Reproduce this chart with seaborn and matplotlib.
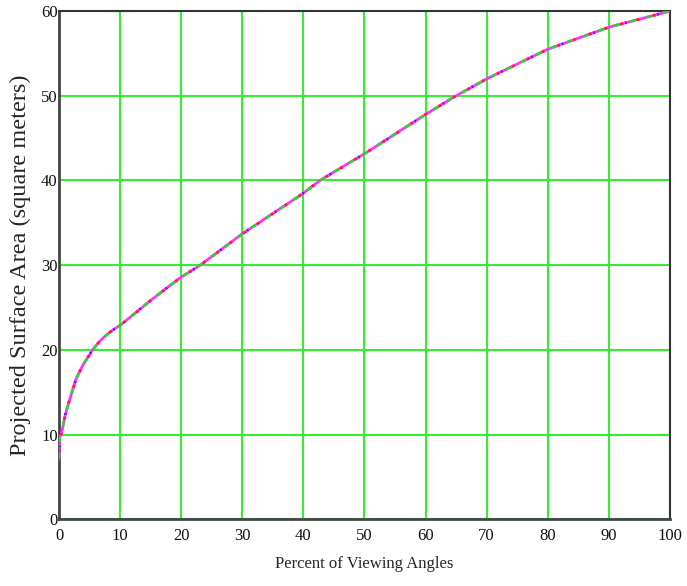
import numpy as np
import matplotlib
matplotlib.use("Agg")
import matplotlib.pyplot as plt
import seaborn as sns
import pandas as pd

# Waarden
percent = [0.0, 0.1, 0.4, 1.0, 1.8, 2.8, 3.9, 5.5, 6.5, 7.5, 8.7, 10.0, 12.4, 15.1, 19.8,
           23.1, 30.0, 40.0, 42.7, 50.1, 60.0, 65.0, 70.0, 80.0, 90.0, 100.0]
area = [7.2, 9.8, 10.1, 12.3, 14.3, 16.6, 18.2, 20.0, 20.9, 21.6, 22.3, 22.9, 24.3, 25.9, 28.5,
        30.0, 33.7, 38.5, 40.0, 43.2, 47.8, 50.0, 52.0, 55.5, 58.1, 60.0]
xticks = list(range(0, 101, 10))
yticks = list(range(0, 61, 10))

df = pd.DataFrame({"percent": percent, "area": area})

sns.set_style("white")
plt.rcParams["font.family"] = ["Liberation Serif", "DejaVu Serif"]
plt.rcParams["lines.scale_dashes"] = False

fig = plt.figure(figsize=(6.87, 5.86), dpi=100)
ax = fig.add_axes([0.086, 0.114, 0.889, 0.867])

# basislijn magenta, daarover gekleurde streepjes
sns.lineplot(data=df, x="percent", y="area", ax=ax, color="#ff33ff", lw=2.0,
             sort=False, estimator=None, zorder=3)
ax.plot(percent, area, color="#22dd22", lw=2.0, zorder=4,
        linestyle=(0, (3.5, 8.5)))
ax.plot(percent, area, color="#ff2020", lw=2.0, zorder=4,
        linestyle=(-4.5, (2.0, 10.0)))
ax.plot(percent, area, color="#2020ff", lw=2.0, zorder=4,
        linestyle=(-8.0, (1.0, 23.0)))

ax.set_xlim(0, 100)
ax.set_ylim(0, 60)
ax.set_xticks(xticks)
ax.set_yticks(yticks)
ax.grid(True, color="#33ee33", lw=1.5)
ax.set_axisbelow(True)
ax.tick_params(length=0, labelsize=12, colors="#111111")
ax.tick_params(axis="x", pad=6)
ax.tick_params(axis="y", pad=1)

for side in ["left", "bottom"]:
    ax.spines[side].set_linewidth(2)
    ax.spines[side].set_color("#444444")
for side in ["top", "right"]:
    ax.spines[side].set_linewidth(1.5)
    ax.spines[side].set_color("#333333")

ax.set_xlabel("Percent of Viewing Angles", fontsize=12, labelpad=9)
ax.set_ylabel("Projected Surface Area (square meters)", fontsize=17.5, labelpad=7)

fig.savefig("out.png", dpi=100)
